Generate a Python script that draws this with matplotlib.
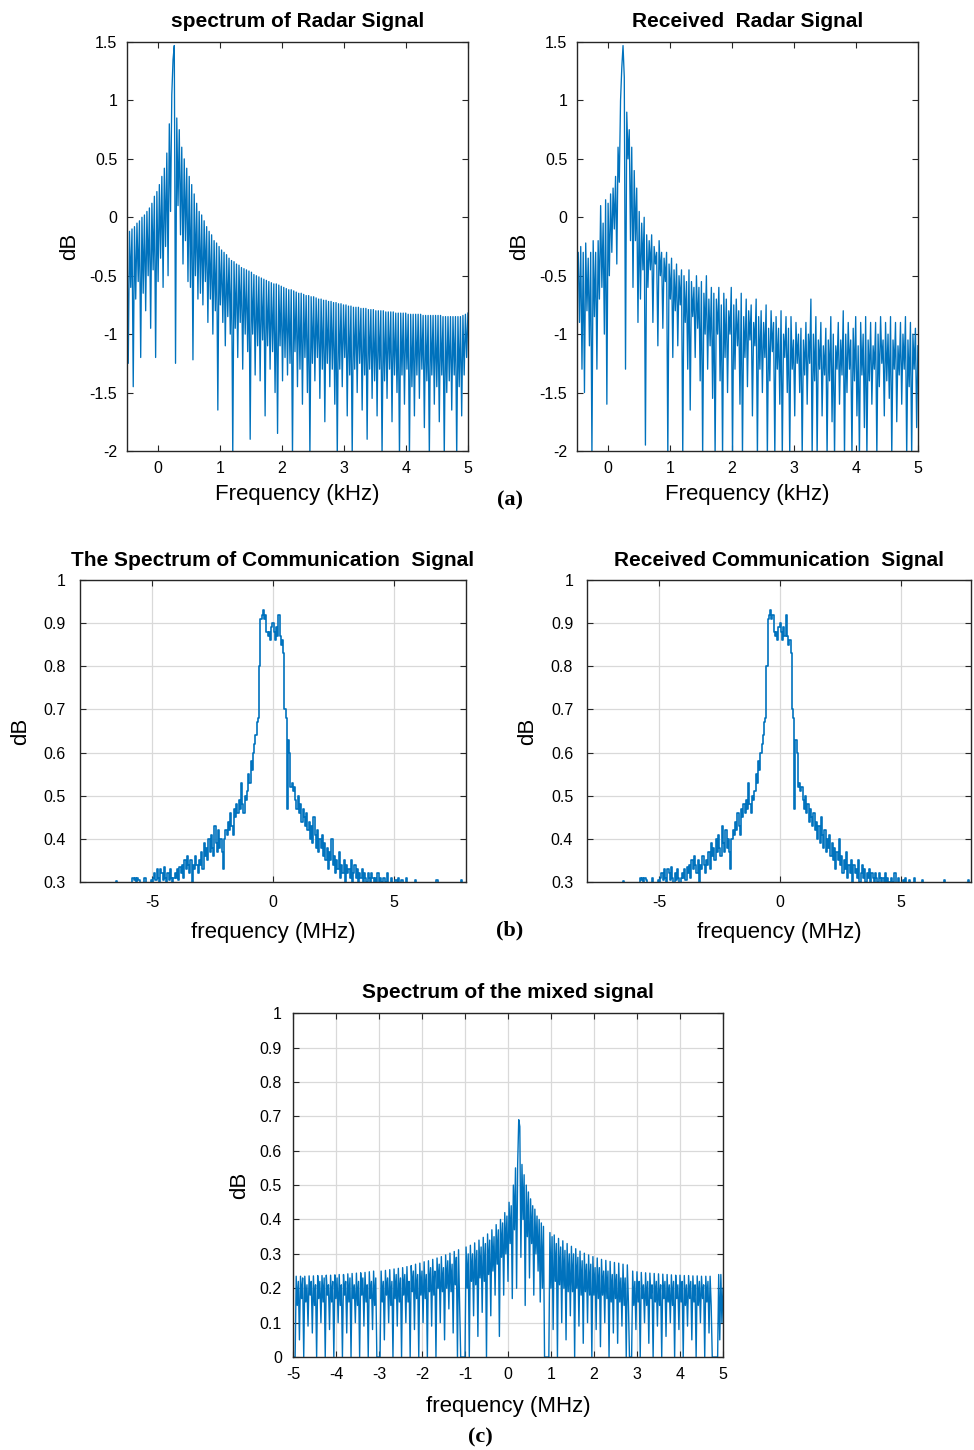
import numpy as np
import matplotlib
matplotlib.use('Agg')
import matplotlib.pyplot as plt
from matplotlib.ticker import FormatStrFormatter, MultipleLocator

plt.rcParams['font.family'] = ['Liberation Sans', 'DejaVu Sans']
plt.rcParams['axes.unicode_minus'] = False

# ---- data ----
# (a) radar spectra, frequency grid -0.5 .. 5 kHz
radar_f_range = (-0.5, 5.0)
radar_tx = [
    -0.15, -1.25, -0.12, -0.6, -0.1, -1.45, -0.08, -0.7, -0.05, -0.55,
    -0.03, -1.2, 0.0, -0.65, 0.02, -0.8, 0.05, -0.5, 0.08, -0.95,
    0.12, -0.45, 0.18, -1.2, 0.22, -0.55, 0.28, -0.35, 0.35, -0.6,
    0.42, -0.25, 0.55, -0.5, 0.8, 0.05, 1.05, 1.35, 1.47, -1.25,
    0.85, 0.1, 0.75, -0.15, 0.6, -0.4, 0.5, -0.2, 0.42, -0.55,
    0.35, -0.6, 0.28, -1.22, 0.2, -0.5, 0.12, -0.7, 0.05, -0.65,
    0.02, -0.75, -0.03, -0.55, -0.08, -0.9, -0.12, -0.7, -0.15, -1.0,
    -0.2, -0.8, -0.22, -1.65, -0.25, -0.75, -0.28, -0.9, -0.3, -1.1,
    -0.32, -0.85, -0.35, -1.0, -0.37, -2.05, -0.38, -0.95, -0.4, -1.2,
    -0.41, -0.9, -0.43, -1.3, -0.44, -1.0, -0.45, -1.15, -0.46, -1.9,
    -0.47, -1.0, -0.49, -1.35, -0.5, -1.1, -0.51, -1.4, -0.52, -1.05,
    -0.53, -1.7, -0.54, -1.1, -0.55, -1.3, -0.56, -1.15, -0.57, -1.5,
    -0.57, -1.85, -0.58, -1.1, -0.59, -1.4, -0.6, -1.2, -0.61, -1.35,
    -0.62, -1.25, -0.62, -2.05, -0.63, -1.15, -0.64, -1.45, -0.65, -1.3,
    -0.65, -1.6, -0.66, -1.2, -0.67, -1.5, -0.67, -2.05, -0.68, -1.25,
    -0.68, -1.4, -0.69, -1.2, -0.7, -1.55, -0.7, -1.3, -0.71, -1.75,
    -0.71, -1.25, -0.72, -1.45, -0.72, -1.3, -0.73, -1.6, -0.73, -2.05,
    -0.74, -1.3, -0.74, -1.45, -0.75, -1.2, -0.75, -1.7, -0.76, -1.35,
    -0.76, -2.05, -0.77, -1.3, -0.77, -1.5, -0.77, -1.25, -0.78, -1.65,
    -0.78, -1.35, -0.78, -1.9, -0.79, -1.3, -0.79, -1.55, -0.79, -1.4,
    -0.8, -1.7, -0.8, -1.3, -0.8, -2.05, -0.8, -1.4, -0.81, -1.55,
    -0.81, -1.3, -0.81, -1.75, -0.81, -1.35, -0.82, -1.5, -0.82, -2.05,
    -0.82, -1.35, -0.82, -1.6, -0.82, -1.3, -0.83, -2.05, -0.83, -1.45,
    -0.83, -1.7, -0.83, -1.35, -0.83, -1.55, -0.83, -1.3, -0.84, -1.8,
    -0.84, -1.4, -0.84, -2.05, -0.84, -1.35, -0.84, -1.6, -0.84, -1.45,
    -0.84, -1.75, -0.84, -1.35, -0.85, -2.05, -0.85, -1.5, -0.85, -1.4,
    -0.85, -1.65, -0.85, -1.35, -0.85, -2.05, -0.85, -1.45, -0.85, -1.7,
    -0.84, -1.35, -0.83, -1.2, -0.82,
]
radar_rx = [
    -0.5, -0.3, -0.9, -0.25, -1.3, -0.3, -1.5, -0.22, -0.8, -0.35,
    -1.1, -0.3, -2.05, -0.2, -0.85, -0.3, -1.3, -0.2, -0.7, 0.1,
    -0.6, -0.05, -1.0, 0.15, -1.6, 0.12, -0.5, 0.2, -0.3, 0.25,
    -0.1, 0.35, -0.4, 0.6, 0.3, 1.0, 1.28, 1.47, 1.2, -1.3,
    0.9, 0.5, 0.75, -0.2, 0.6, -0.6, 0.4, -0.2, 0.25, -0.9,
    0.05, -0.7, -0.05, -0.45, 0.0, -1.95, -0.15, -0.6, -0.2, -0.45,
    -0.15, -0.9, -0.25, -0.4, -0.3, -1.1, -0.2, -0.5, -0.3, -0.95,
    -0.35, -0.55, -0.3, -2.05, -0.4, -0.7, -0.35, -1.2, -0.45, -0.8,
    -0.4, -1.1, -0.5, -0.75, -0.45, -2.05, -0.5, -0.9, -0.55, -1.3,
    -0.45, -1.65, -0.55, -0.85, -0.6, -1.2, -0.5, -0.95, -0.6, -1.4,
    -0.55, -2.05, -0.65, -1.0, -0.5, -1.3, -0.7, -1.1, -0.6, -1.55,
    -0.65, -2.05, -0.7, -1.0, -0.6, -1.4, -0.75, -2.05, -0.65, -1.2,
    -0.7, -1.5, -0.8, -1.0, -0.6, -2.05, -0.75, -1.3, -0.7, -1.1,
    -0.8, -1.6, -0.65, -2.05, -0.85, -1.2, -0.7, -1.45, -0.8, -1.05,
    -0.75, -1.7, -0.9, -1.1, -0.7, -2.05, -0.85, -1.3, -0.8, -1.5,
    -0.9, -1.2, -0.75, -2.05, -0.95, -1.4, -0.8, -1.15, -0.9, -2.05,
    -0.85, -1.3, -0.95, -1.6, -0.8, -2.05, -1.0, -1.2, -0.85, -1.5,
    -0.95, -2.05, -0.85, -1.3, -1.05, -1.7, -0.9, -1.25, -1.0, -1.5,
    -0.95, -2.05, -1.05, -1.35, -0.9, -1.6, -1.0, -1.25, -0.7, -2.05,
    -1.0, -1.4, -0.85, -2.05, -1.05, -1.3, -0.9, -1.7, -1.1, -1.35,
    -0.95, -2.05, -1.05, -1.4, -0.85, -1.75, -1.0, -2.05, -1.1, -1.3,
    -0.9, -1.6, -1.05, -1.35, -0.8, -2.05, -1.0, -1.5, -0.9, -1.3,
    -1.05, -2.05, -0.95, -1.4, -0.85, -1.7, -1.1, -2.05, -0.9, -1.35,
    -1.0, -1.8, -0.85, -2.05, -1.05, -1.4, -0.9, -1.6, -1.1, -1.3,
    -0.9, -2.05, -1.0, -1.45, -0.85, -1.25, -1.05, -1.7, -0.9, -1.4,
    -1.0, -1.55, -0.85, -2.05, -1.05, -1.3, -0.9, -1.75, -1.1, -1.35,
    -0.9, -1.6, -1.0, -1.3, -0.85, -2.05, -1.05, -1.45, -0.9, -2.05,
    -1.0, -1.3, -0.95, -1.8, -1.1,
]

# (b) communication spectrum, grid -7 .. 8 MHz (same trace sent / received)
comm_f_range = (-7.0, 8.0)
comm_sig = [
    0.28, 0.28, 0.28, 0.28, 0.28, 0.28, 0.28, 0.28, 0.28, 0.28,
    0.302, 0.28, 0.28, 0.28, 0.28, 0.28, 0.28, 0.28, 0.28, 0.28,
    0.28, 0.28, 0.28, 0.28, 0.31, 0.305, 0.31, 0.28, 0.31, 0.305,
    0.28, 0.28, 0.28, 0.28, 0.31, 0.28, 0.28, 0.28, 0.28, 0.305,
    0.28, 0.31, 0.32, 0.305, 0.33, 0.31, 0.28, 0.33, 0.32, 0.305,
    0.335, 0.31, 0.28, 0.32, 0.305, 0.33, 0.31, 0.28, 0.31, 0.32,
    0.31, 0.33, 0.305, 0.335, 0.32, 0.34, 0.31, 0.35, 0.33, 0.36,
    0.34, 0.32, 0.35, 0.28, 0.34, 0.33, 0.36, 0.34, 0.32, 0.35,
    0.34, 0.37, 0.33, 0.39, 0.36, 0.38, 0.35, 0.4, 0.37, 0.41,
    0.38, 0.36, 0.43, 0.39, 0.37, 0.42, 0.38, 0.4, 0.37, 0.33,
    0.4, 0.42, 0.41, 0.44, 0.42, 0.46, 0.43, 0.41, 0.47, 0.45,
    0.48, 0.46, 0.49, 0.47, 0.53, 0.48, 0.46, 0.5, 0.49, 0.51,
    0.55, 0.53, 0.58, 0.56, 0.6, 0.62, 0.64, 0.67, 0.68, 0.8,
    0.91, 0.92, 0.93, 0.91, 0.92, 0.88, 0.87, 0.88, 0.86, 0.89,
    0.9, 0.88, 0.86, 0.89, 0.87, 0.92, 0.87, 0.85, 0.86, 0.83,
    0.7, 0.68, 0.47, 0.63, 0.6, 0.52, 0.53, 0.51, 0.52, 0.49,
    0.47, 0.5, 0.46, 0.48, 0.44, 0.47, 0.45, 0.43, 0.46, 0.42,
    0.44, 0.4, 0.43, 0.39, 0.45, 0.41, 0.38, 0.42, 0.37, 0.4,
    0.38, 0.41, 0.36, 0.39, 0.35, 0.38, 0.33, 0.37, 0.35, 0.4,
    0.34, 0.36, 0.32, 0.35, 0.33, 0.37, 0.31, 0.34, 0.32, 0.35,
    0.3, 0.34, 0.32, 0.33, 0.31, 0.35, 0.3, 0.32, 0.34, 0.31,
    0.33, 0.3, 0.32, 0.31, 0.33, 0.3, 0.32, 0.31, 0.3, 0.32,
    0.31, 0.3, 0.32, 0.31, 0.28, 0.31, 0.3, 0.32, 0.28, 0.31,
    0.3, 0.28, 0.31, 0.28, 0.3, 0.32, 0.28, 0.28, 0.31, 0.28,
    0.28, 0.28, 0.305, 0.28, 0.31, 0.28, 0.28, 0.305, 0.28, 0.28,
    0.28, 0.31, 0.28, 0.28, 0.28, 0.28, 0.28, 0.28, 0.305, 0.28,
    0.28, 0.28, 0.28, 0.28, 0.28, 0.28, 0.28, 0.28, 0.28, 0.28,
    0.28, 0.28, 0.28, 0.28, 0.28, 0.28, 0.305, 0.28, 0.28, 0.28,
    0.28, 0.28, 0.28, 0.28, 0.28, 0.28, 0.28, 0.28, 0.28, 0.28,
    0.28, 0.28, 0.28, 0.28, 0.28, 0.28, 0.305, 0.28, 0.28, 0.28,
    0.28,
]

# (c) mixed signal, grid -5 .. 5 MHz
mixed_f_range = (-5.0, 5.0)
mixed_sig = [
    0.0, 0.0, 0.0, 0.235, 0.15, 0.22, 0.05, 0.235, 0.17, 0.23, 0.0, 0.235, 0.16, 0.21, 0.09, 0.236, 0.18, 0.22, 0.07, 0.236,
    0.15, 0.21, 0.0, 0.237, 0.17, 0.22, 0.1, 0.237, 0.16, 0.23, 0.0, 0.238, 0.18, 0.21, 0.08, 0.238, 0.16, 0.22, 0.0, 0.239,
    0.17, 0.23, 0.1, 0.24, 0.15, 0.21, 0.0, 0.24, 0.18, 0.22, 0.07, 0.242, 0.16, 0.23, 0.0, 0.243, 0.17, 0.21, 0.1, 0.244,
    0.15, 0.22, 0.0, 0.245, 0.18, 0.23, 0.09, 0.246, 0.16, 0.21, 0.0, 0.248, 0.17, 0.22, 0.08, 0.25, 0.15, 0.23, 0.0, 0.0,
    0.0, 0.0, 0.25, 0.16, 0.22, 0.05, 0.252, 0.18, 0.23, 0.1, 0.254, 0.15, 0.22, 0.0, 0.256, 0.17, 0.24, 0.09, 0.258, 0.16,
    0.23, 0.0, 0.26, 0.18, 0.24, 0.1, 0.263, 0.16, 0.22, 0.0, 0.266, 0.19, 0.25, 0.08, 0.27, 0.17, 0.24, 0.0, 0.273, 0.18,
    0.25, 0.1, 0.277, 0.17, 0.24, 0.0, 0.28, 0.19, 0.26, 0.09, 0.284, 0.18, 0.25, 0.0, 0.288, 0.2, 0.27, 0.1, 0.292, 0.19,
    0.26, 0.05, 0.297, 0.2, 0.28, 0.14, 0.302, 0.19, 0.27, 0.07, 0.307, 0.21, 0.29, 0.0, 0.312, 0.15, 0.0, 0.0, 0.0, 0.0,
    0.0, 0.32, 0.2, 0.3, 0.0, 0.325, 0.22, 0.3, 0.12, 0.332, 0.21, 0.31, 0.06, 0.34, 0.23, 0.32, 0.13, 0.348, 0.22, 0.33,
    0.0, 0.358, 0.24, 0.34, 0.12, 0.37, 0.25, 0.35, 0.18, 0.385, 0.27, 0.37, 0.06, 0.4, 0.29, 0.39, 0.18, 0.42, 0.3, 0.41,
    0.22, 0.45, 0.33, 0.44, 0.17, 0.5, 0.37, 0.55, 0.2, 0.56, 0.69, 0.67, 0.29, 0.56, 0.4, 0.53, 0.15, 0.5, 0.35, 0.48,
    0.23, 0.46, 0.33, 0.44, 0.18, 0.43, 0.3, 0.41, 0.25, 0.4, 0.16, 0.39, 0.2, 0.38, 0.0, 0.0, 0.0, 0.0, 0.0, 0.362,
    0.2, 0.35, 0.08, 0.355, 0.22, 0.33, 0.0, 0.345, 0.21, 0.32, 0.1, 0.338, 0.2, 0.31, 0.05, 0.33, 0.19, 0.3, 0.12, 0.322,
    0.19, 0.3, 0.0, 0.315, 0.2, 0.29, 0.09, 0.308, 0.18, 0.28, 0.04, 0.302, 0.19, 0.27, 0.1, 0.297, 0.18, 0.27, 0.0, 0.292,
    0.18, 0.26, 0.08, 0.288, 0.17, 0.26, 0.03, 0.284, 0.18, 0.25, 0.1, 0.281, 0.17, 0.25, 0.0, 0.278, 0.16, 0.24, 0.07, 0.275,
    0.17, 0.24, 0.04, 0.273, 0.16, 0.23, 0.09, 0.27, 0.15, 0.23, 0.0, 0.268, 0.16, 0.0, 0.0, 0.0, 0.25, 0.15, 0.22, 0.08,
    0.248, 0.16, 0.22, 0.0, 0.246, 0.17, 0.21, 0.1, 0.245, 0.15, 0.22, 0.04, 0.244, 0.17, 0.21, 0.0, 0.243, 0.16, 0.22, 0.09,
    0.242, 0.15, 0.21, 0.0, 0.241, 0.17, 0.22, 0.06, 0.24, 0.16, 0.21, 0.1, 0.239, 0.15, 0.22, 0.0, 0.238, 0.17, 0.21, 0.08,
    0.238, 0.16, 0.22, 0.0, 0.237, 0.15, 0.21, 0.09, 0.237, 0.17, 0.22, 0.05, 0.236, 0.16, 0.21, 0.0, 0.236, 0.15, 0.22, 0.1,
    0.235, 0.17, 0.21, 0.0, 0.235, 0.16, 0.22, 0.07, 0.235, 0.15, 0.0, 0.0, 0.0, 0.0, 0.0, 0.0, 0.24, 0.05, 0.24, 0.1,
    0.2,
]

titles = ['spectrum of Radar Signal', 'Received  Radar Signal',
          'The Spectrum of Communication  Signal', 'Received Communication  Signal',
          'Spectrum of the mixed signal']

line_col = '#0072BD'
spine_col = '#262626'


def style_axes(ax, grid=False, ypad=6):
    # matlab-like box: ticks inside on every side
    ax.tick_params(direction='in', top=True, right=True, length=4, width=0.8,
                   labelsize=11.5, colors=spine_col, labelcolor='black')
    ax.tick_params(axis='y', pad=ypad)
    for s in ax.spines.values():
        s.set_color(spine_col)
        s.set_linewidth(1.0)
    if grid:
        ax.grid(True, color='#d9d9d9', linewidth=0.9)
        ax.set_axisbelow(True)
    ax.yaxis.set_major_formatter(FormatStrFormatter('%g'))
    ax.xaxis.set_major_formatter(FormatStrFormatter('%g'))


fig = plt.figure(figsize=(9.74, 14.5), dpi=100)

# ---- (a) radar ----
for i, (data, left) in enumerate([(radar_tx, 0.1304), (radar_rx, 0.5924)]):
    ax = fig.add_axes([left, 0.689, 0.350, 0.282])
    f = np.linspace(radar_f_range[0], radar_f_range[1], len(data))
    ax.plot(f, data, color=line_col, lw=0.95)
    ax.set_xlim(-0.5, 5)
    ax.set_ylim(-2, 1.5)
    ax.xaxis.set_major_locator(MultipleLocator(1))
    ax.yaxis.set_major_locator(MultipleLocator(0.5))
    style_axes(ax, ypad=7)
    ax.tick_params(axis='x', pad=7)
    ax.set_title(titles[i], fontsize=15, fontweight='bold', pad=11)
    ax.set_xlabel('Frequency (kHz)', fontsize=16, labelpad=6)
    ax.set_ylabel('dB', fontsize=16, labelpad=7)

# ---- (b) communication ----
for i, (left, width, xmax) in enumerate([(0.0821, 0.3963, 8.0), (0.6027, 0.3943, 7.9)]):
    ax = fig.add_axes([left, 0.3917, width, 0.2083])
    f = np.linspace(comm_f_range[0], comm_f_range[1], len(comm_sig))
    ax.plot(f, comm_sig, color=line_col, lw=1.2, drawstyle='steps-mid')
    ax.set_xlim(-8, xmax)
    ax.set_ylim(0.3, 1)
    ax.set_xticks([-5, 0, 5])
    ax.yaxis.set_major_locator(MultipleLocator(0.1))
    style_axes(ax, grid=True, ypad=10)
    ax.tick_params(axis='x', pad=9)
    ax.set_title(titles[2 + i], fontsize=15, fontweight='bold', pad=10)
    ax.set_xlabel('frequency (MHz)', fontsize=16, labelpad=9)
    ax.set_ylabel('dB', fontsize=16, labelpad=9)

# ---- (c) mixed ----
ax = fig.add_axes([0.3008, 0.0641, 0.4415, 0.2372])
f = np.linspace(mixed_f_range[0], mixed_f_range[1], len(mixed_sig))
ax.plot(f, mixed_sig, color=line_col, lw=1.0)
ax.set_xlim(-5, 5)
ax.set_ylim(0, 1)
ax.xaxis.set_major_locator(MultipleLocator(1))
ax.yaxis.set_major_locator(MultipleLocator(0.1))
style_axes(ax, grid=True, ypad=8)
ax.tick_params(axis='x', pad=7)
ax.set_title(titles[4], fontsize=15, fontweight='bold', pad=11)
ax.set_xlabel('frequency (MHz)', fontsize=16, labelpad=10)
ax.set_ylabel('dB', fontsize=16, labelpad=7)

# panel letters
for txt, x, y in [('(a)', 510, 500), ('(b)', 510, 930), ('(c)', 480, 1437)]:
    fig.text(x / 974, 1 - y / 1450, txt, fontsize=16, fontweight='bold',
             family=['Liberation Serif', 'DejaVu Serif'], ha='center', va='center')

plt.savefig('out.png', dpi=100)
